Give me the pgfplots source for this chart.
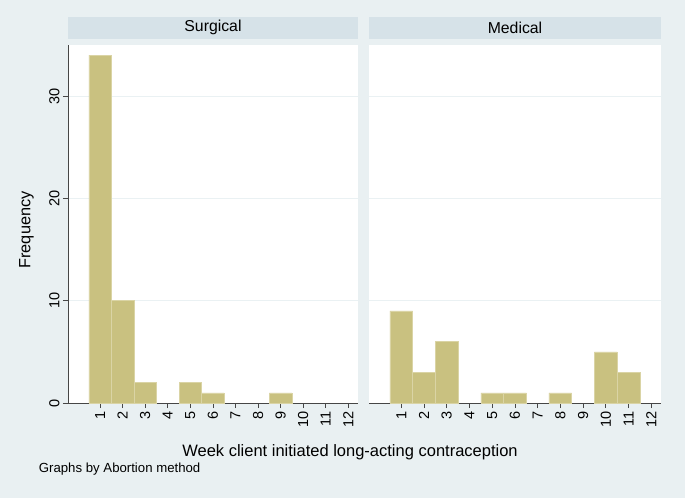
\documentclass[border=0pt]{standalone}
\usepackage{pgfplots}
\pgfplotsset{compat=1.18}
\usepackage{fontspec}
\setmainfont{Liberation Sans}
\definecolor{bgc}{RGB}{233,240,242}
\definecolor{headc}{RGB}{214,226,232}
\definecolor{barc}{RGB}{201,193,128}
\definecolor{barl}{RGB}{218,212,165}
\definecolor{gridc}{RGB}{234,241,243}
\definecolor{axc}{RGB}{70,70,70}
\begin{document}
\begin{tikzpicture}
\fill[bgc] (0pt,0pt) rectangle (685pt,498pt);
\pgfplotsset{
 panel/.style={
   scale only axis, height=358pt, ymin=0, ymax=35, xmin=-0.42, xmax=12.43,
   anchor=south west,
   axis background/.style={fill=white},
   axis x line*=bottom, axis y line*=left,
   axis line style={draw=axc, line width=0.7pt},
   tick style={draw=axc, line width=0.7pt},
   tick align=outside, major tick length=5pt,
   xtick={1,...,12}, ytick={0,10,20,30},
   ymajorgrids, grid style={draw=gridc, line width=0.8pt},
   tick label style={font=\fontsize{14.5}{16}\selectfont},
   /pgf/number format/assume math mode=true,
   xticklabel style={rotate=90, anchor=east},
   yticklabel style={rotate=90, anchor=south},
   title style={at={(0.5,1)}, anchor=south, fill=headc, minimum height=22pt, inner sep=0pt, font=\fontsize{15.8}{17}\selectfont},
   ybar, bar width=1,
 }
}
\begin{axis}[panel, at={(68pt,95pt)}, width=290pt, title={Surgical}, title style={minimum width=290pt}]
\addplot[fill=barc, draw=barl, line width=0.5pt] coordinates {(1,34) (2,10) (3,2) (5,2) (6,1) (9,1)};
\end{axis}
\begin{axis}[panel, at={(369pt,95pt)}, width=292pt, title={Medical}, title style={minimum width=292pt},
   y axis line style={draw=none}, ytick style={draw=none}, yticklabels={}]
\addplot[fill=barc, draw=barl, line width=0.5pt] coordinates {(1,9) (2,3) (3,6) (5,1) (6,1) (8,1) (10,5) (11,3)};
\end{axis}
\node[anchor=base, font=\fontsize{16.5}{19}\selectfont] at (350pt,42pt) {Week client initiated long-acting contraception};
\node[rotate=90, anchor=base, font=\fontsize{16.3}{19}\selectfont] at (30.5pt,268pt) {Frequency};
\node[anchor=base west, inner sep=0pt, font=\fontsize{13.2}{15}\selectfont] at (38.7pt,25.5pt) {Graphs by Abortion method};
\end{tikzpicture}
\end{document}
